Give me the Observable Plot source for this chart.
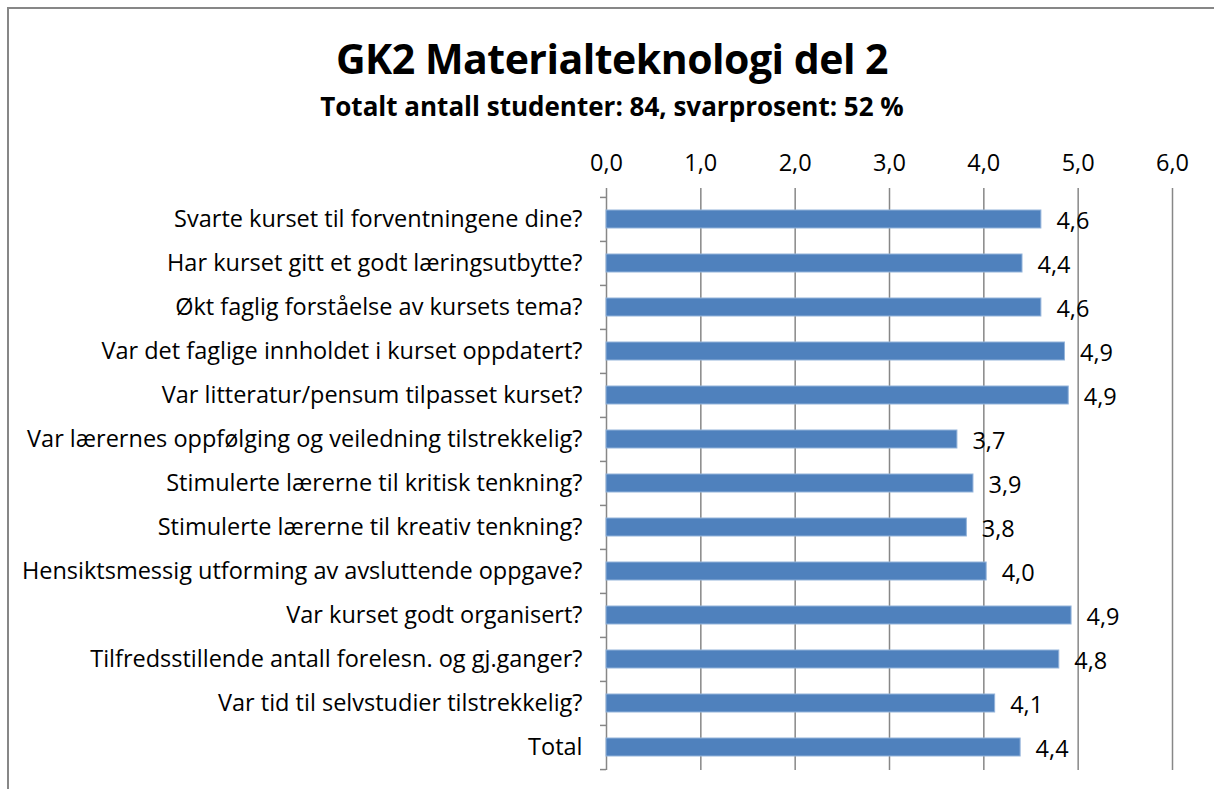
<!DOCTYPE html>
<html><head><meta charset="utf-8">
<script src="https://cdn.jsdelivr.net/npm/d3@7"></script>
<script src="https://cdn.jsdelivr.net/npm/@observablehq/plot@0.6"></script>
<style>
body{margin:0;background:#fff;font-family:"Open Sans",sans-serif;overflow:hidden;}
#frame{position:absolute;left:7px;top:7px;width:1220px;height:800px;border-left:2px solid #878787;border-top:2px solid #878787;}
#title{position:absolute;left:5px;width:1214px;top:32px;text-align:center;font-weight:bold;font-size:41px;line-height:52px;color:#000;letter-spacing:-0.5px;}
#sub{position:absolute;left:5px;width:1214px;top:89px;text-align:center;font-weight:bold;font-size:26px;line-height:34px;color:#000;}
#chart{position:absolute;left:0;top:130px;}
</style></head>
<body>
<div id="frame"></div>
<div id="title">GK2 Materialteknologi del 2</div>
<div id="sub">Totalt antall studenter: 84, svarprosent: 52 %</div>
<div id="chart"></div>
<script>
const categories = [
  "Svarte kurset til forventningene dine?",
  "Har kurset gitt et godt læringsutbytte?",
  "Økt faglig forståelse av kursets tema?",
  "Var det faglige innholdet i kurset oppdatert?",
  "Var litteratur/pensum tilpasset kurset?",
  "Var lærernes oppfølging og veiledning tilstrekkelig?",
  "Stimulerte lærerne til kritisk tenkning?",
  "Stimulerte lærerne til kreativ tenkning?",
  "Hensiktsmessig utforming av avsluttende oppgave?",
  "Var kurset godt organisert?",
  "Tilfredsstillende antall forelesn. og gj.ganger?",
  "Var tid til selvstudier tilstrekkelig?",
  "Total"
];
const values = [4.61, 4.41, 4.61, 4.86, 4.90, 3.72, 3.89, 3.82, 4.03, 4.93, 4.80, 4.12, 4.39];
const xTicks = [0, 1, 2, 3, 4, 5, 6];

const data = categories.map((c, i) => ({q: c, v: values[i]}));
const fmt = d => d.toFixed(1).replace(".", ",");
const H = 659, mTop = 66, mBottom = 19;
const step = (H - mTop - mBottom) / categories.length;

const chart = Plot.plot({
  width: 1214, height: H,
  marginLeft: 606, marginRight: 42, marginTop: mTop, marginBottom: mBottom,
  x: {domain: [0, 6], axis: null},
  y: {domain: categories, paddingInner: 0.59, paddingOuter: 0.295, axis: null},
  style: {fontFamily: "'Open Sans', sans-serif", fontSize: "23px", color: "#000", background: "transparent"},
  marks: [
    Plot.ruleX(xTicks, {stroke: "#878787", strokeWidth: 1.5, insetTop: -8}),
    Plot.axisX(xTicks, {anchor: "top", label: null, tickSize: 0, tickPadding: 26, tickFormat: fmt, fontSize: 23.5}),
    Plot.barX(data, {x: "v", y: "q", fill: "#4F81BD", stroke: "#93b3da", strokeWidth: 1}),
    Plot.text(data, {x: "v", y: "q", text: d => fmt(d.v), textAnchor: "start", dx: 15, dy: 2, fontSize: 23.5, fill: "#000"}),
    Plot.axisY(categories, {label: null, tickSize: 0, tickPadding: 24, fontSize: 23.5}),
    Plot.axisY(categories, {label: null, tickSize: 6, text: null, dy: -step / 2, stroke: "#878787", strokeWidth: 1.5}),
    Plot.axisY(["Total"], {label: null, tickSize: 6, text: null, dy: step / 2, stroke: "#878787", strokeWidth: 1.5})
  ]
});
document.getElementById("chart").appendChild(chart);
</script>
</body></html>
